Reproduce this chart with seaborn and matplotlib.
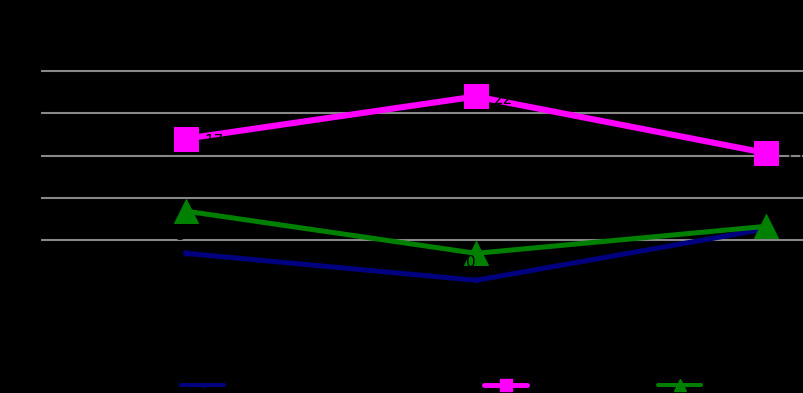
import matplotlib
matplotlib.use("Agg")
import matplotlib.pyplot as plt
import seaborn as sns
import pandas as pd
from matplotlib.lines import Line2D

categories = ["Q1", "Q2", "Q3"]
series_names = ["Series A (navy)", "Series B", "Series C"]
navy_vals = [3.4, 0.2, 6.3]
pink_vals = [17.0, 22.0, 15.3]
green_vals = [8.4, 3.4, 6.6]
navy_labels = ["3", "0", "6"]
pink_labels = ["17", "22", "15"]
yticks = [5, 10, 15, 20, 25]

sns.set_theme(style="dark")
plt.rcParams["font.family"] = ["DejaVu Sans"]

fig = plt.figure(figsize=(8.04, 3.93), dpi=100, facecolor="black")
ax = fig.add_axes([41 / 804, 1 - 282 / 393, (911 - 41) / 804, 253 / 393])
ax.set_facecolor("black")

styles = [
    (navy_vals, "#000080", "o", 4, 3.6),
    (pink_vals, "#FF00FF", "s", 17, 4.4),
    (green_vals, "#008000", "^", 17, 3.6),
]
handles = []
for (vals, color, marker, ms, lw), name in zip(styles, series_names):
    df = pd.DataFrame({"cat": categories, "val": vals})
    sns.lineplot(data=df, x="cat", y="val", ax=ax, color=color, marker=marker,
                 markersize=ms, linewidth=lw, markeredgecolor=color,
                 sort=False, legend=False)
    handles.append(Line2D([], [], color=color, marker=marker, markersize=ms * 0.55,
                          linewidth=lw * 0.8, markeredgecolor=color))

# data labels (black text)
for i, (v, t) in enumerate(zip(pink_vals, pink_labels)):
    ax.annotate(t, (i, v), xytext=(20, -2), textcoords="offset points",
                color="black", fontsize=11, ha="center", va="center")
for i, (v, t) in enumerate(zip(navy_vals, navy_labels)):
    ax.annotate(t, (i, v), xytext=(-4, 13), textcoords="offset points",
                color="black", fontsize=11, ha="center", va="center")

ax.set_xlim(-0.5, 2.5)
ax.set_ylim(0, 30)
ax.set_yticks(yticks)
ax.grid(axis="y", color="#888888", linewidth=1.5)
ax.grid(axis="x", visible=False)
ax.set_xlabel("")
ax.set_ylabel("")
ax.tick_params(colors="black", labelcolor="black", length=0)
for s in ax.spines.values():
    s.set_visible(False)

# legend entries along the bottom
xs = [181, 484, 658]
for h, name, x in zip(handles, series_names, xs):
    fig.legend(handles=[h], labels=[name], loc="center left",
               bbox_to_anchor=(x / 804, 7 / 393), frameon=False,
               borderpad=0, borderaxespad=0, handlelength=3.1,
               fontsize=10, labelcolor="black")

fig.savefig("out.png", dpi=100, facecolor="black")
